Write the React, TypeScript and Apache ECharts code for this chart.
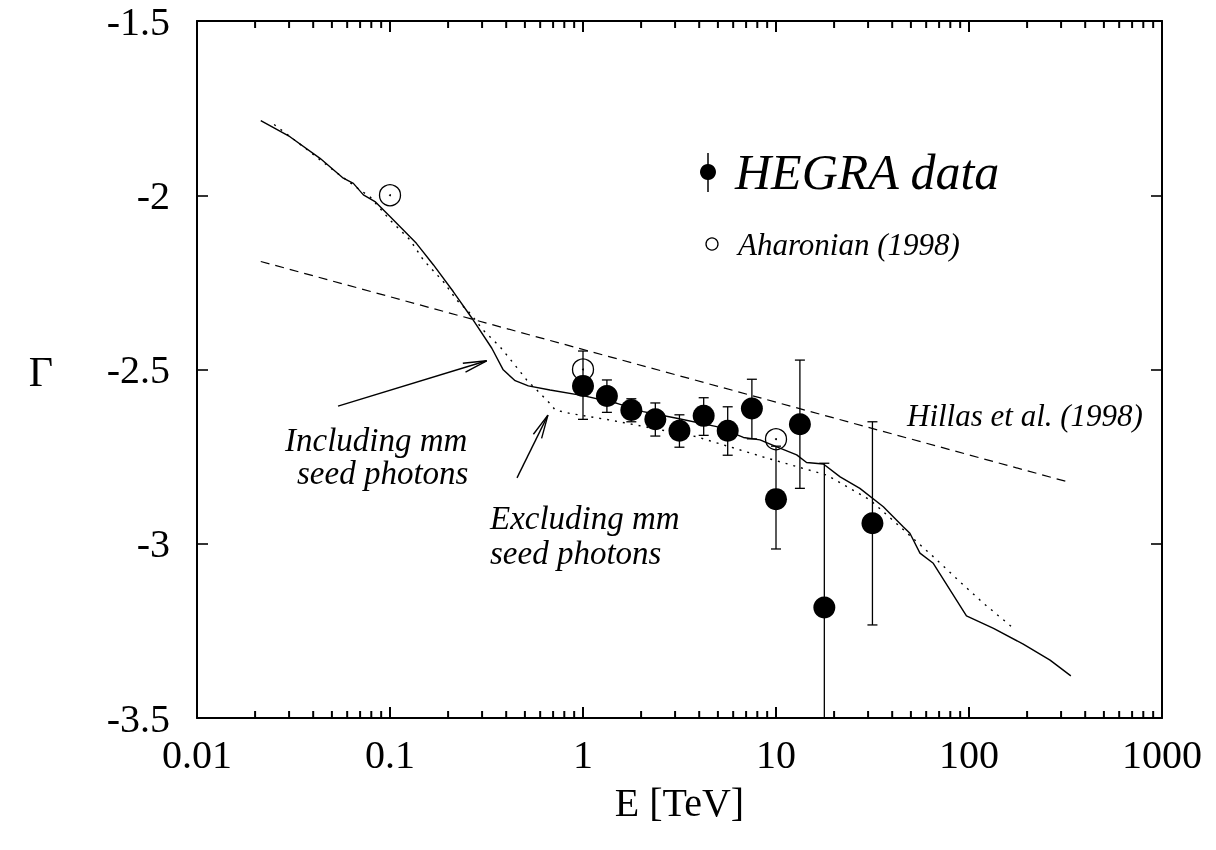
import React, { useEffect, useRef } from 'react';
import * as echarts from 'echarts';

const xTickLabels = ['0.01', '0.1', '1', '10', '100', '1000'];

// HEGRA data points
const hegraE = [1.0, 1.33, 1.78, 2.37, 3.16, 4.22, 5.62, 7.5, 10.0, 13.3, 17.8, 31.6];
const hegraGamma = [-2.547, -2.576, -2.616, -2.643, -2.676, -2.633, -2.676, -2.612, -2.872, -2.657, -3.183, -2.941];
const hegraUpper = [-2.447, -2.530, -2.584, -2.596, -2.630, -2.581, -2.607, -2.528, -2.72, -2.473, -2.769, -2.650];
const hegraLower = [-2.643, -2.623, -2.650, -2.691, -2.723, -2.689, -2.746, -2.699, -3.015, -2.841, -3.5, -3.233];

// Aharonian (1998)
const aharE = [0.1, 1, 10];
const aharGamma = [-2.0, -2.5, -2.7];

// Hillas et al. (1998)
const hillasE = [0.0214, 333];
const hillasGamma = [-2.19, -2.824];

// Including mm seed photons (solid)
const inclE = [0.0214, 0.0303, 0.0434, 0.0573, 0.0646, 0.0728, 0.0836, 0.1, 0.137, 0.168, 0.213, 0.27, 0.337, 0.386, 0.445, 0.521, 0.675, 1.0, 1.5, 2.05, 3.06, 4.93, 6.78, 8.26, 10.1, 12.8, 14.4, 17.6, 21.5, 27.2, 36.0, 45.6, 49.4, 55.7, 65.3, 97.0, 134, 191, 263, 337];
const inclGamma = [-1.786, -1.832, -1.894, -1.951, -1.966, -1.999, -2.018, -2.061, -2.138, -2.2, -2.277, -2.358, -2.439, -2.501, -2.532, -2.547, -2.559, -2.575, -2.597, -2.621, -2.64, -2.664, -2.695, -2.702, -2.722, -2.745, -2.767, -2.771, -2.808, -2.841, -2.894, -2.951, -2.97, -3.027, -3.056, -3.207, -3.243, -3.288, -3.334, -3.379];

// Excluding mm seed photons (dotted)
const exclE = [0.0251, 0.037, 0.0508, 0.07, 0.0787, 0.1, 0.127, 0.149, 0.189, 0.222, 0.26, 0.304, 0.372, 0.436, 0.511, 0.598, 0.687, 0.716, 0.857, 1.38, 3.88, 8.59, 18.3, 30.7, 43.9, 65.3, 89.7, 119, 173];
const exclGamma = [-1.797, -1.868, -1.928, -1.985, -2.004, -2.071, -2.128, -2.186, -2.248, -2.301, -2.339, -2.387, -2.435, -2.482, -2.53, -2.568, -2.602, -2.616, -2.626, -2.645, -2.693, -2.751, -2.803, -2.874, -2.951, -3.037, -3.109, -3.171, -3.246];

// annotation arrows: [tailE, tailGamma, tipE, tipGamma]
const arrowIncl = [0.0538, -2.605, 0.317, -2.475];
const arrowExcl = [0.455, -2.811, 0.658, -2.631];

const FONT = 'Liberation Serif';
const Y_MIN = -3.5;
const Y_MAX = -1.5;

export default function App() {
  const ref = useRef<HTMLDivElement>(null);
  useEffect(() => {
    if (!ref.current) return;
    const chart = echarts.init(ref.current, null, { renderer: 'svg' });

    // tick marks along the log axis: [value, isMajor]
    const xTicks: number[][] = [];
    for (let k = -2; k <= 3; k++) {
      xTicks.push([Math.pow(10, k), 1]);
      if (k < 3) for (let m = 2; m <= 9; m++) xTicks.push([m * Math.pow(10, k), 0]);
    }

    const axisLine = { show: true, lineStyle: { color: '#000', width: 2 } };
    const xCommon = {
      type: 'log' as const,
      logBase: 10,
      min: 0.01,
      max: 1000,
      splitNumber: 5,
      axisLine,
      axisTick: { show: false },
      splitLine: { show: false },
      minorTick: { show: false },
    };
    const yCommon = {
      type: 'value' as const,
      min: Y_MIN,
      max: Y_MAX,
      interval: 0.5,
      axisLine,
      axisTick: { show: true, inside: true, length: 11, lineStyle: { color: '#000', width: 1.6 } },
      splitLine: { show: false },
    };

    const option: any = {
      animation: false,
      grid: { left: 197, top: 21, right: 54, bottom: 132, containLabel: false },
      xAxis: [
        {
          ...xCommon,
          position: 'bottom',
          name: 'E [TeV]',
          nameLocation: 'middle',
          nameGap: 64,
          nameTextStyle: { fontFamily: FONT, fontSize: 40, color: '#000' },
          axisLabel: {
            margin: 16,
            fontFamily: FONT,
            fontSize: 40,
            color: '#000',
            formatter: (v: number) => xTickLabels[Math.round(Math.log10(v)) + 2] ?? '',
          },
        },
        { ...xCommon, position: 'top', axisLabel: { show: false } },
      ],
      yAxis: [
        {
          ...yCommon,
          position: 'left',
          axisLabel: { margin: 27, fontFamily: FONT, fontSize: 40, color: '#000' },
        },
        { ...yCommon, position: 'right', axisLabel: { show: false } },
      ],
      series: [
        {
          type: 'line',
          name: 'Hillas et al. (1998)',
          data: hillasE.map((e, i) => [e, hillasGamma[i]]),
          symbol: 'none',
          lineStyle: { color: '#000', width: 1.2, type: [9, 6] },
          z: 2,
        },
        {
          type: 'line',
          name: 'Including mm seed photons',
          data: inclE.map((e, i) => [e, inclGamma[i]]),
          symbol: 'none',
          lineStyle: { color: '#000', width: 1.4 },
          z: 2,
        },
        {
          type: 'line',
          name: 'Excluding mm seed photons',
          data: exclE.map((e, i) => [e, exclGamma[i]]),
          symbol: 'none',
          lineStyle: { color: '#000', width: 1.4, type: [2, 6] },
          z: 2,
        },
        {
          type: 'custom',
          name: 'HEGRA errors',
          data: hegraE.map((e, i) => [e, hegraLower[i], hegraUpper[i]]),
          encode: { x: 0, y: [1, 2] },
          renderItem: (params: any, api: any) => {
            const e = api.value(0);
            const lo = api.coord([e, api.value(1)]);
            const hi = api.coord([e, api.value(2)]);
            const style = { stroke: '#000', lineWidth: 1.3 };
            const w = 5;
            return {
              type: 'group',
              children: [
                { type: 'line', shape: { x1: lo[0], y1: lo[1], x2: hi[0], y2: hi[1] }, style },
                { type: 'line', shape: { x1: lo[0] - w, y1: lo[1], x2: lo[0] + w, y2: lo[1] }, style },
                { type: 'line', shape: { x1: hi[0] - w, y1: hi[1], x2: hi[0] + w, y2: hi[1] }, style },
              ],
            };
          },
          z: 4,
        },
        {
          type: 'scatter',
          name: 'Aharonian (1998)',
          data: aharE.map((e, i) => [e, aharGamma[i]]),
          symbol: 'circle',
          symbolSize: 21,
          itemStyle: { color: 'rgba(255,255,255,0)', borderColor: '#000', borderWidth: 1.3, opacity: 1 },
          z: 5,
        },
        {
          type: 'scatter',
          name: 'Aharonian centres',
          data: aharE.map((e, i) => [e, aharGamma[i]]),
          symbol: 'circle',
          symbolSize: 2,
          itemStyle: { color: '#000', opacity: 1 },
          z: 5,
        },
        {
          type: 'scatter',
          name: 'HEGRA data',
          data: hegraE.map((e, i) => [e, hegraGamma[i]]),
          symbol: 'circle',
          symbolSize: 22,
          itemStyle: { color: '#000', opacity: 1 },
          z: 6,
        },
      ],
    };
    chart.setOption(option);

    const textStyle = (size: number, italic = true) => ({
      fontFamily: FONT,
      fontSize: size,
      fontStyle: italic ? 'italic' : 'normal',
      fill: '#000',
    });

    const toPx = (e: number, g: number) => chart.convertToPixel({ xAxisIndex: 0, yAxisIndex: 0 }, [e, g]) as number[];

    const makeArrow = (a: number[], id: string) => {
      const tail = toPx(a[0], a[1]);
      const tip = toPx(a[2], a[3]);
      const dx = tip[0] - tail[0];
      const dy = tip[1] - tail[1];
      const len = Math.sqrt(dx * dx + dy * dy);
      const ux = dx / len;
      const uy = dy / len;
      const hl = 24;
      const ang = (11 * Math.PI) / 180;
      const rot = (x: number, y: number, t: number) => [x * Math.cos(t) - y * Math.sin(t), x * Math.sin(t) + y * Math.cos(t)];
      const l = rot(-ux, -uy, ang);
      const r = rot(-ux, -uy, -ang);
      const style = { stroke: '#000', lineWidth: 1.4, fill: null };
      return [
        { type: 'line', id: id + 's', shape: { x1: tail[0], y1: tail[1], x2: tip[0], y2: tip[1] }, style },
        {
          type: 'polyline',
          id: id + 'h',
          shape: { points: [[tip[0] + l[0] * hl, tip[1] + l[1] * hl], [tip[0], tip[1]], [tip[0] + r[0] * hl, tip[1] + r[1] * hl]] },
          style,
        },
      ];
    };

    const tickRects: any[] = [];
    xTicks.forEach(([v, major], i) => {
      const b = toPx(v, Y_MIN);
      const t = toPx(v, Y_MAX);
      const len = major ? 11 : 7;
      tickRects.push({ type: 'rect', id: 'tb' + i, shape: { x: b[0] - 1, y: b[1] - len, width: 2, height: len }, style: { fill: '#000' }, z: 10 });
      tickRects.push({ type: 'rect', id: 'tt' + i, shape: { x: t[0] - 1, y: t[1], width: 2, height: len }, style: { fill: '#000' }, z: 10 });
    });

    chart.setOption({
      graphic: [
        ...tickRects,
        ...makeArrow(arrowIncl, 'a1'),
        ...makeArrow(arrowExcl, 'a2'),
        { type: 'text', x: 285, y: 440, style: { ...textStyle(33), text: 'Including mm', verticalAlign: 'middle' } },
        { type: 'text', x: 297, y: 473, style: { ...textStyle(33), text: 'seed photons', verticalAlign: 'middle' } },
        { type: 'text', x: 490, y: 518, style: { ...textStyle(33), text: 'Excluding mm', verticalAlign: 'middle' } },
        { type: 'text', x: 490, y: 553, style: { ...textStyle(33), text: 'seed photons', verticalAlign: 'middle' } },
        { type: 'text', x: 907, y: 415, style: { ...textStyle(31), text: 'Hillas et al. (1998)', verticalAlign: 'middle' } },
        { type: 'text', x: 41, y: 372, style: { ...textStyle(42, false), text: 'Γ', align: 'center', verticalAlign: 'middle' } },
        // legend
        { type: 'line', shape: { x1: 708, y1: 153, x2: 708, y2: 192 }, style: { stroke: '#000', lineWidth: 1.5 } },
        { type: 'circle', shape: { cx: 708, cy: 172, r: 8 }, style: { fill: '#000' } },
        { type: 'text', x: 735, y: 172, style: { ...textStyle(50), text: 'HEGRA data', verticalAlign: 'middle' } },
        { type: 'circle', shape: { cx: 712, cy: 244, r: 6 }, style: { fill: null, stroke: '#000', lineWidth: 1.3 } },
        { type: 'text', x: 738, y: 244, style: { ...textStyle(31), text: 'Aharonian (1998)', verticalAlign: 'middle' } },
      ],
    });

    return () => chart.dispose();
  }, []);
  return <div ref={ref} style={{ position: 'fixed', left: 0, top: 0, width: 1216, height: 850 }} />;
}
